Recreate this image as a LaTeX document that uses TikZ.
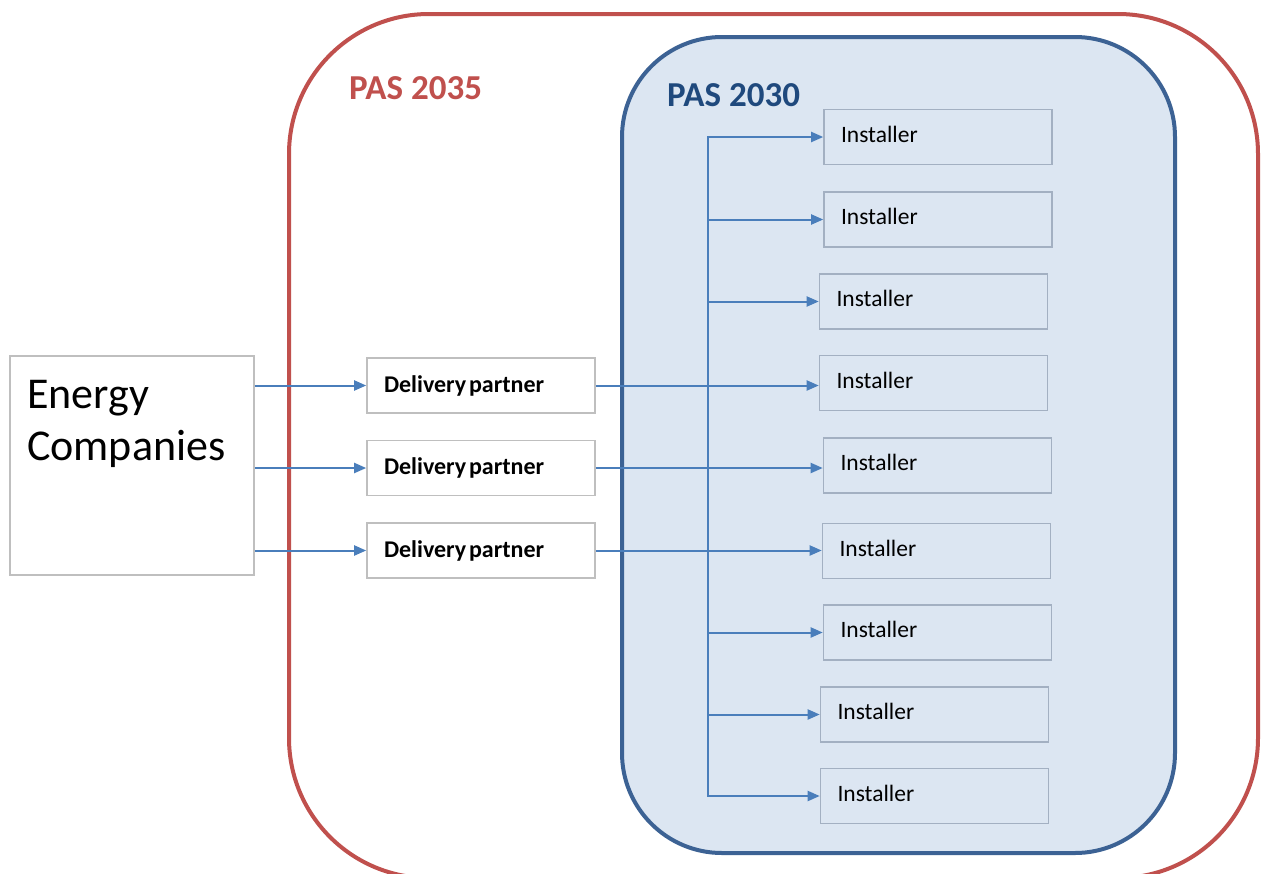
\documentclass[tikz,border=0pt]{standalone}
\usepackage{fontspec}
\setmainfont{Carlito}
\usetikzlibrary{arrows.meta}
\definecolor{pasred}{HTML}{C0504D}
\definecolor{pasblue}{HTML}{3C6294}
\definecolor{pasbluetext}{HTML}{1F497D}
\definecolor{paleblue}{HTML}{DCE6F2}
\definecolor{boxgray}{HTML}{BFBFBF}
\definecolor{instgray}{HTML}{A3B0C2}
\definecolor{arrowblue}{HTML}{4A7EBB}
\newcommand{\dptext}{Delivery\kern0.12em partner}
\begin{document}
\begin{tikzpicture}[x=1pt,y=-1pt,
  outerbox/.style={draw=pasred, line width=4pt, rounded corners=140pt},
  innerbox/.style={draw=pasblue, line width=4pt, fill=paleblue, rounded corners=100pt},
  ecbox/.style={draw=boxgray, line width=1.6pt, fill=white, minimum width=244pt, minimum height=219pt, inner sep=0pt},
  dpbox/.style={draw=boxgray, line width=1.6pt, fill=white, minimum width=228pt, minimum height=55pt,
    text width=194pt, inner xsep=17pt, inner ysep=0pt, align=left, font=\fontsize{24}{28}\selectfont\bfseries},
  inbox/.style={draw=instgray, line width=1.6pt, fill=paleblue, minimum width=228pt, minimum height=55pt,
    text width=194pt, inner xsep=17pt, inner ysep=0pt, text depth=6pt, align=left, font=\fontsize{23.5}{27}\selectfont},
  conn/.style={draw=arrowblue, line width=2pt, -{Triangle[length=12pt,width=10pt]}},
  trunkline/.style={draw=arrowblue, line width=2pt},
  pastitle/.style={anchor=base west, inner sep=0pt, font=\fontsize{35}{42}\selectfont\bfseries}
]
\useasboundingbox (0,0) rectangle (1261,873);
\fill[white] (0,0) rectangle (1261,873);

% outer and inner frames
\draw[outerbox] (289,14) rectangle (1258,878);
\draw[innerbox] (622,37) rectangle (1175,853);
\node[pastitle, text=pasred] (p35) at (349,99) {PAS 2035};
\node[pastitle, text=pasbluetext] (p30) at (667,106) {PAS 2030};

% energy companies
\node[ecbox] (ec) at (132,465.5) {};
\node[anchor=north west, align=left, inner sep=0pt, font=\fontsize{44}{52}\selectfont] (ect) at (27,380) {Energy\\Companies};

% delivery partners
\node[dpbox] (d1) at (481,385.5) {\dptext};
\node[dpbox] (d2) at (481,468) {\dptext};
\node[dpbox] (d3) at (481,550.5) {\dptext};

% installers
\node[inbox] (i1) at (938,137) {Installer};
\node[inbox] (i2) at (938,219.5) {Installer};
\node[inbox] (i3) at (933.5,301.5) {Installer};
\node[inbox] (i4) at (933.5,383) {Installer};
\node[inbox] (i5) at (937.5,465.5) {Installer};
\node[inbox] (i6) at (936.5,551) {Installer};
\node[inbox] (i7) at (937.5,632.5) {Installer};
\node[inbox] (i8) at (934.5,714.5) {Installer};
\node[inbox] (i9) at (934.5,796) {Installer};

% trunk
\coordinate (tt) at (708,136);
\coordinate (tb) at (708,797);
\draw[trunkline] (tt) -- (tb);
\foreach \i in {i1,i2,i3,i7,i8,i9}
  \draw[conn] (tt |- \i.west) -- (\i.west);

% energy -> delivery
\foreach \d in {d1,d2,d3}
  \draw[conn] (ec.east |- \d.west) -- (\d.west);

% delivery -> installers
\draw[conn] (d1.east) -- (d1.east -| i4.west);
\draw[conn] (d2.east) -- (d2.east -| i5.west);
\draw[conn] (d3.east) -- (d3.east -| i6.west);
\end{tikzpicture}
\end{document}
